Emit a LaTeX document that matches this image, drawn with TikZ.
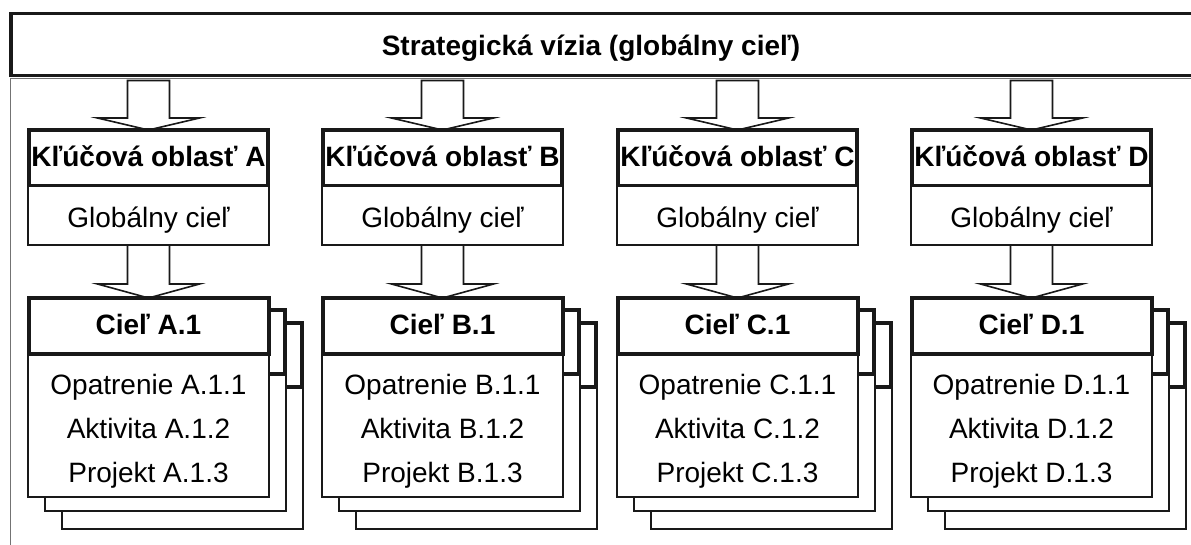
\documentclass[tikz,border=0pt]{standalone}
\usepackage{fontspec}
\setmainfont{Liberation Sans}
\usetikzlibrary{calc}
\pgfdeclarelayer{bg}
\pgfsetlayers{bg,main}
\tikzset{
  every node/.style={inner sep=0pt, outer sep=0pt},
  boldtxt/.style={font=\fontsize{28}{30}\selectfont\bfseries},
  regtxt/.style={font=\fontsize{28}{30}\selectfont},
  thickbox/.style={draw=black!90, line width=4pt, fill=white},
  thinbox/.style={draw=black!90, line width=1.8pt, fill=white},
  arr/.style={draw=black!90, line width=1.6pt, fill=white, line join=miter},
  frame/.style={draw=black!55, line width=1.5pt},
}
\begin{document}
\begin{tikzpicture}[x=1pt,y=-1pt]
\useasboundingbox (0,0) rectangle (1191,544);
\clip (0,0) rectangle (1191,544);
\begin{pgfonlayer}{bg}
  \fill[white] (0,0) rectangle (1191,544);
  \node[frame, minimum width=1289.5pt, minimum height=521.5pt] (frame) at (655.25,339.25) {};
\end{pgfonlayer}
\node[thickbox, line width=3.5pt, minimum width=1289pt, minimum height=62pt] (top) at (655.5,44.5) {};
\node[boldtxt, text height=20pt, text depth=0pt] (title) at (591,45) {Strategická vízia (globálny cieľ)};
\foreach \L/\cx in {A/27,B/321,C/616,D/910}{
  \node[thickbox, boldtxt, minimum width=239pt, minimum height=56pt, text height=20pt, text depth=4pt] (k\L) at (\cx+121.5,158) {Kľúčová oblasť \L};
  \node[thinbox, regtxt, minimum width=241pt, minimum height=59pt, text height=23pt, text depth=0pt] (g\L) at (\cx+121.5,215.5) {Globálny cieľ};
  % back sheet 3
  \node[thinbox, minimum width=241pt, minimum height=206pt] (bb3\L) at (\cx+155.5,426) {};
  \node[thickbox, minimum width=239pt, minimum height=64pt] (bt3\L) at (\cx+155.5,355) {};
  % back sheet 2
  \node[thinbox, minimum width=241pt, minimum height=201pt] (bb2\L) at (\cx+138.5,410.5) {};
  \node[thickbox, minimum width=239pt, minimum height=64pt] (bt2\L) at (\cx+138.5,342) {};
  % front sheet
  \node[thinbox, minimum width=241pt, minimum height=143pt] (o\L) at (\cx+121.5,425.5) {};
  \node[thickbox, boldtxt, minimum width=240pt, minimum height=56pt, text height=20pt, text depth=4pt] (c\L) at (\cx+121.5,326) {Cieľ \L.1};
  \node[regtxt, anchor=base] (o\L1) at (\cx+121.5,394) {Opatrenie \L.1.1};
  \node[regtxt, anchor=base] (o\L2) at (\cx+121.5,438) {Aktivita \L.1.2};
  \node[regtxt, anchor=base] (o\L3) at (\cx+121.5,482) {Projekt \L.1.3};
  \begin{pgfonlayer}{bg}
    \draw[arr] let \p1=(top.south), \p2=(k\L.north) in
      (\x2-21pt,\y1-5pt) -- (\x2-21pt,\y2+12pt) -- (\x2-51pt,\y2+12pt) -- (\x2,\y2)
      -- (\x2+51pt,\y2+12pt) -- (\x2+21pt,\y2+12pt) -- (\x2+21pt,\y1-5pt) -- cycle;
    \draw[arr] let \p1=(g\L.south), \p2=(c\L.north) in
      (\x2-21pt,\y1) -- (\x2-21pt,\y2+14pt) -- (\x2-51pt,\y2+14pt) -- (\x2,\y2)
      -- (\x2+51pt,\y2+14pt) -- (\x2+21pt,\y2+14pt) -- (\x2+21pt,\y1) -- cycle;
  \end{pgfonlayer}
}
\end{tikzpicture}
\end{document}
